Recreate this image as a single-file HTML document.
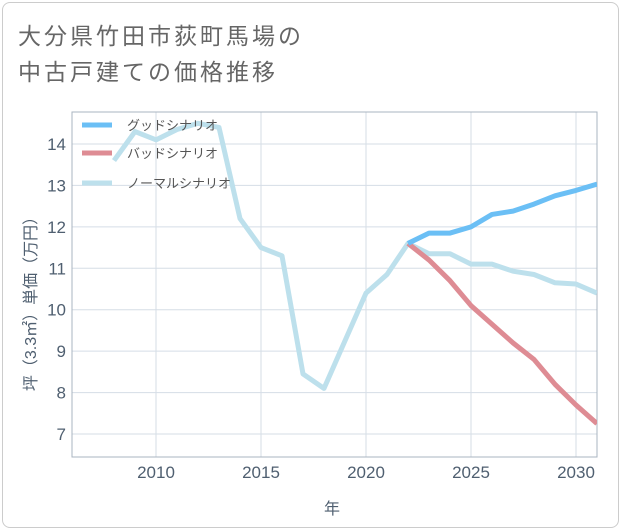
<!DOCTYPE html>
<html><head><meta charset="utf-8"><style>
body{margin:0;background:#fff;}
#card{position:absolute;left:2px;top:2px;width:615px;height:524px;border:1px solid #ccc;border-radius:8px;background:#fff;}
.t{position:absolute;left:18px;font:23px "Liberation Sans","Noto Sans CJK JP",sans-serif;color:#666;letter-spacing:3px;white-space:nowrap;}
svg{position:absolute;left:0;top:0;}
text{font-family:"Liberation Sans","Noto Sans CJK JP",sans-serif;}
</style></head><body>
<div id="card"></div>
<div class="t" style="top:17px">大分県竹田市荻町馬場の</div>
<div class="t" style="top:53px">中古戸建ての価格推移</div>
<svg id="c" width="621" height="530"></svg>
<script>
const years=[2008,2009,2010,2011,2012,2013,2014,2015,2016,2017,2018,2019,2020,2021,2022,2023,2024,2025,2026,2027,2028,2029,2030,2031];
const normal=[13.6,14.3,14.1,14.35,14.5,14.4,12.2,11.5,11.3,8.45,8.1,9.25,10.4,10.85,11.6,11.35,11.35,11.1,11.1,10.93,10.85,10.65,10.62,10.4];
const goodYears=[2022,2023,2024,2025,2026,2027,2028,2029,2030,2031];
const good=[11.6,11.85,11.85,12.0,12.3,12.38,12.55,12.75,12.88,13.03];
const bad=[11.6,11.2,10.7,10.1,9.65,9.2,8.8,8.2,7.7,7.25];
const xTicks=[2010,2015,2020,2025,2030];
const yTicks=[7,8,9,10,11,12,13,14];
const L=72,R=597,T=112,B=457;
const X=v=>156+(v-2010)*21;
const Y=v=>434-(v-7)*(290/7);
const s=document.getElementById('c');
const NS='http://www.w3.org/2000/svg';
const TC='#4f5f70';
function mk(t,a,p){const e=document.createElementNS(NS,t);for(const k in a)e.setAttribute(k,a[k]);(p||s).appendChild(e);return e;}
const clip=mk('clipPath',{id:'cp'});mk('rect',{x:L,y:T,width:R-L,height:B-T},clip);
yTicks.forEach(v=>{
const g=mk('line',{x1:L,x2:R,y1:Y(v),y2:Y(v),stroke:'#d5dde6','stroke-width':1});


const t=mk('text',{x:L-6,y:Y(v)+6,'text-anchor':'end','font-size':17,fill:TC});t.textContent=v;


});
xTicks.forEach(v=>{
const g=mk('line',{x1:X(v),x2:X(v),y1:T,y2:B,stroke:'#d5dde6','stroke-width':1});


const t=mk('text',{x:X(v),y:B+21,'text-anchor':'middle','font-size':17,fill:TC});t.textContent=v;


});
const fr=mk('rect',{x:L,y:T,width:R-L,height:B-T,fill:'none',stroke:'#aab4c0'});


function line(xs,ys,c,n){const p=mk('polyline',{points:xs.map((x,i)=>X(x)+','+Y(ys[i])).join(' '),fill:'none',stroke:c,'stroke-width':5,'stroke-linejoin':'round','clip-path':'url(#cp)'});

}
line(years,normal,'#bde0ec','normal-scenario-line');
line(goodYears,bad,'#de8c94','bad-scenario-line');
line(goodYears,good,'#6bbff5','good-scenario-line');
const legend=[['グッドシナリオ','#6bbff5',125],['バッドシナリオ','#de8c94',153],['ノーマルシナリオ','#bde0ec',183]];
legend.forEach(l=>{
const m=mk('line',{x1:82,x2:112,y1:l[2],y2:l[2],stroke:l[1],'stroke-width':5});


const t=mk('text',{x:127,y:l[2]+5,'font-size':13,fill:'#555'});t.textContent=l[0];


});
const xl=mk('text',{x:332,y:514,'text-anchor':'middle','font-size':16,fill:TC});xl.textContent='年';


const yl=mk('text',{x:36,y:300,'text-anchor':'middle','font-size':16,fill:TC,transform:'rotate(-90 36 300)'});yl.textContent='坪（3.3㎡）単価（万円）';


</script>
</body></html>
